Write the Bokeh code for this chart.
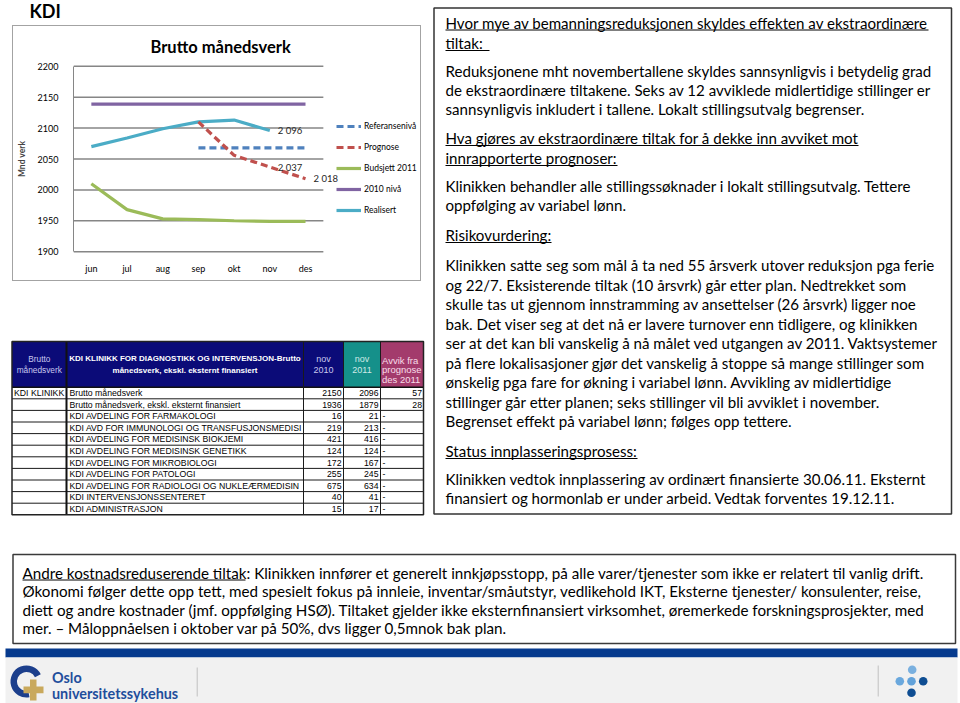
from bokeh.plotting import figure
from bokeh.models import (ColumnDataSource, Range1d, FixedTicker, Legend,
                          LegendItem, LabelSet, Spacer)
from bokeh.layouts import row, column
from bokeh.embed import file_html
from bokeh.resources import INLINE
from bokeh.core.properties import value

FONT = "Lato"
TFONT = "Liberation Sans"

# ---------------- chart data ----------------
months = ["jun", "jul", "aug", "sep", "okt", "nov", "des"]
y_ticks = [1900, 1950, 2000, 2050, 2100, 2150, 2200]
realisert_months = ["jun", "jul", "aug", "sep", "okt", "nov"]
realisert = [2070, 2084, 2099, 2110, 2113, 2096]
prognose_months = ["sep", "okt", "nov", "des"]
prognose = [2110, 2056, 2037, 2018]
referanse_months = ["sep", "okt", "nov", "des"]
referanse = [2068, 2068, 2068, 2068]
budsjett_2011 = [2010, 1968, 1953, 1952, 1950, 1949, 1949]
nivaa_2010 = [2139, 2139, 2139, 2139, 2139, 2139, 2139]

# ---------------- table data ----------------
klinikk = ["KDI KLINIKK", "", "", "", "", "", "", "", "", "", ""]
enheter = ["Brutto månedsverk",
           "Brutto månedsverk, ekskl. eksternt finansiert",
           "KDI AVDELING FOR FARMAKOLOGI",
           "KDI AVD FOR IMMUNOLOGI OG TRANSFUSJONSMEDISI",
           "KDI AVDELING FOR MEDISINSK BIOKJEMI",
           "KDI AVDELING FOR MEDISINSK GENETIKK",
           "KDI AVDELING FOR MIKROBIOLOGI",
           "KDI AVDELING FOR PATOLOGI",
           "KDI AVDELING FOR RADIOLOGI OG NUKLEÆRMEDISIN",
           "KDI INTERVENSJONSSENTERET",
           "KDI ADMINISTRASJON"]
nov_2010 = [2150, 1936, 16, 219, 421, 124, 172, 255, 675, 40, 15]
nov_2011 = [2096, 1879, 21, 213, 416, 124, 167, 245, 634, 41, 17]
avvik = ["57", "28", "-", "-", "-", "-", "-", "-", "-", "-", "-"]

# ---------------- text content ----------------
notes_lines = [
    "Hvor mye av bemanningsreduksjonen skyldes effekten av ekstraordinære",
    "tiltak:",
    "Reduksjonene mht novembertallene skyldes sannsynligvis i betydelig grad",
    "de ekstraordinære tiltakene. Seks av 12 avviklede midlertidige stillinger er",
    "sannsynligvis inkludert i tallene. Lokalt stillingsutvalg begrenser.",
    "Hva gjøres av ekstraordinære tiltak for å dekke inn avviket mot",
    "innrapporterte prognoser:",
    "Klinikken behandler alle stillingssøknader i lokalt stillingsutvalg. Tettere",
    "oppfølging av variabel lønn.",
    "Risikovurdering:",
    "Klinikken satte seg som mål å ta ned 55 årsverk utover reduksjon pga ferie",
    "og 22/7.  Eksisterende tiltak (10 årsvrk) går etter plan. Nedtrekket som",
    "skulle tas ut gjennom innstramming av ansettelser (26 årsvrk) ligger noe",
    "bak. Det viser seg at det nå er lavere turnover enn tidligere, og klinikken",
    "ser at det kan bli vanskelig å nå målet ved utgangen av 2011. Vaktsystemer",
    "på flere lokalisasjoner gjør det vanskelig å stoppe så mange stillinger som",
    "ønskelig pga fare for økning i variabel lønn. Avvikling av midlertidige",
    "stillinger går etter planen; seks stillinger vil bli avviklet i november.",
    "Begrenset effekt på variabel lønn; følges opp tettere.",
    "Status innplasseringsprosess:",
    "Klinikken vedtok innplassering av ordinært finansierte 30.06.11.  Eksternt",
    "finansiert og hormonlab er under arbeid. Vedtak forventes 19.12.11.",
]
notes_base = [27.5, 48, 76, 95, 114, 143, 163, 191, 210, 240, 270, 289.5, 309, 328.5,
              348, 367.5, 387, 406.5, 426, 456, 484, 503]
notes_ul = {0: 928, 1: 489, 5: 858, 6: 617, 9: 551, 19: 637}

bottom_lines = [
    "Andre kostnadsreduserende tiltak: Klinikken innfører et generelt innkjøpsstopp, på alle varer/tjenester som ikke er relatert til vanlig drift.",
    "Økonomi følger dette opp tett, med spesielt fokus på innleie, inventar/småutstyr, vedlikehold IKT, Eksterne tjenester/ konsulenter, reise,",
    "diett og andre kostnader (jmf. oppfølging HSØ). Tiltaket gjelder ikke eksternfinansiert virksomhet, øremerkede forskningsprosjekter, med",
    "mer. – Måloppnåelsen i oktober var på 50%, dvs ligger 0,5mnok bak plan.",
]
bottom_base = [577.5, 596, 614.5, 633]


def panel(x0, y0, w, h):
    p = figure(width=w, height=h, x_range=Range1d(x0, x0 + w), y_range=Range1d(y0 + h, y0),
               x_axis_location=None, y_axis_location=None, output_backend="svg",
               toolbar_location=None, min_border=0)
    p.xgrid.visible = False
    p.ygrid.visible = False
    p.outline_line_color = None
    p.background_fill_color = "white"
    p.border_fill_color = "white"
    return p


def txt(p, xs, ys, texts, size, font=FONT, color="#000000", align="left",
        baseline="alphabetic", style="normal"):
    # Bokeh draws alphabetic text ~0.36em lower than given; compensate
    px = float(size.replace("px", ""))
    if baseline == "alphabetic":
        ys = [y - 0.36 * px for y in ys]
    p.text(x=xs, y=ys, text=texts, text_font=value(font), text_font_size=size,
           text_color=color, text_align=align, text_baseline=baseline,
           text_font_style=style)


# ---------------- KDI header ----------------
kdi = panel(0, 0, 430, 25)
txt(kdi, [29], [16.5], ["KDI"], "18px", style="bold")

# ---------------- chart ----------------
CH_W, CH_H = 409, 256
B_LEFT, B_TOP, B_BOTTOM = 57, 37, 29
PLOT_PX = 252          # width of the gridded area
LEG_PX = CH_W - B_LEFT - PLOT_PX
x_idx = {m: i for i, m in enumerate(months)}
x_start = -0.5
x_end = len(months) - 0.5 + LEG_PX * len(months) / PLOT_PX

chart = figure(width=CH_W, height=CH_H, x_range=Range1d(x_start, x_end),
               y_range=Range1d(1897, 2203), output_backend="svg", toolbar_location=None,
               min_border_left=B_LEFT, min_border_right=0, min_border_top=B_TOP,
               min_border_bottom=B_BOTTOM, title="Brutto månedsverk")
chart.styles = {"border": "1px solid #a3a3a3"}
chart.title.align = "left"
chart.title.offset = 77
chart.title.standoff = 16
chart.title.text_font = FONT
chart.title.text_font_size = "16.5px"
chart.title.text_font_style = "bold"
chart.title.text_color = "#000000"
chart.outline_line_color = None
chart.xgrid.visible = False
chart.ygrid.visible = False

chart.yaxis.ticker = FixedTicker(ticks=y_ticks)
chart.yaxis.bounds = (y_ticks[0], y_ticks[-1])
chart.yaxis.major_tick_line_color = None
chart.yaxis.minor_tick_line_color = None
chart.yaxis.axis_line_color = "#868686"
chart.yaxis.major_label_standoff = 9
chart.yaxis.major_label_text_font = FONT
chart.yaxis.major_label_text_font_size = "9px"
chart.yaxis.major_label_text_color = "#000000"
chart.yaxis.axis_label = "Mnd verk"
chart.yaxis.axis_label_text_font = FONT
chart.yaxis.axis_label_text_font_size = "8.5px"
chart.yaxis.axis_label_text_font_style = "bold"
chart.yaxis.axis_label_standoff = 8

chart.xaxis.ticker = FixedTicker(ticks=list(range(len(months))))
chart.xaxis.major_label_overrides = {i: m for i, m in enumerate(months)}
chart.xaxis.axis_line_color = None
chart.xaxis.major_tick_line_color = None
chart.xaxis.minor_tick_line_color = None
chart.xaxis.major_label_standoff = 3
chart.xaxis.major_label_text_font = FONT
chart.xaxis.major_label_text_font_size = "9px"
chart.xaxis.major_label_text_color = "#000000"

# horizontal gridlines over the month area only
chart.segment(x0=[x_start] * len(y_ticks), x1=[len(months) - 0.5] * len(y_ticks),
              y0=y_ticks, y1=y_ticks, line_color="#868686", line_width=1.5)

LW = 3.2
r_niv = chart.line(x=[x_idx[m] for m in months], y=nivaa_2010, line_color="#8064a2",
                   line_width=LW)
r_real = chart.line(x=[x_idx[m] for m in realisert_months], y=realisert,
                    line_color="#4bacc6", line_width=LW)
r_bud = chart.line(x=[x_idx[m] for m in months], y=budsjett_2011, line_color="#9bbb59",
                   line_width=LW)
r_ref = chart.line(x=[x_idx[m] for m in referanse_months], y=referanse,
                   line_color="#4f81bd", line_width=LW, line_dash="7 4")
r_prog = chart.line(x=[x_idx[m] for m in prognose_months], y=prognose,
                    line_color="#c0504d", line_width=LW, line_dash="7 4")

lab_y = [realisert[-1], prognose[2], prognose[3]]
lab = ColumnDataSource(dict(x=[x_idx[realisert_months[-1]], x_idx[prognose_months[2]],
                               x_idx[prognose_months[3]]],
                            y=lab_y,
                            text=[f"{v:,}".replace(",", " ") for v in lab_y]))
chart.add_layout(LabelSet(x="x", y="y", text="text", source=lab, x_offset=8,
                          text_baseline="middle", text_font=value(FONT),
                          text_font_size=value("9.5px"), text_color="#262626"))

legend = Legend(items=[LegendItem(label="Referansenivå", renderers=[r_ref]),
                       LegendItem(label="Prognose", renderers=[r_prog]),
                       LegendItem(label="Budsjett 2011", renderers=[r_bud]),
                       LegendItem(label="2010 nivå", renderers=[r_niv]),
                       LegendItem(label="Realisert", renderers=[r_real])],
                location=(PLOT_PX + 11, 36), glyph_width=25, glyph_height=14,
                label_height=14, spacing=7, padding=0, margin=0,
                border_line_color=None, background_fill_alpha=0, label_standoff=3,
                label_text_font=FONT, label_text_font_size="8.5px",
                label_text_color="#000000")
chart.add_layout(legend)

# ---------------- table ----------------
tp = panel(0, 283, 430, 237)
cx = [11.5, 66, 303, 343, 380, 423]
h_top, h_bot, t_bot = 341, 386.7, 514.3
rh = (t_bot - h_bot) / len(enheter)
tp.quad(left=[cx[0], cx[3], cx[4]], right=[cx[3], cx[4], cx[5]],
        top=[h_top] * 3, bottom=[h_bot] * 3,
        fill_color=["#0b0b78", "#15908a", "#a33b6c"], line_color=None)
row_lines = [h_bot + k * rh for k in range(1, len(enheter))]
tp.segment(x0=[cx[0]] * len(row_lines), x1=[cx[5]] * len(row_lines),
           y0=row_lines, y1=row_lines, line_color="#1a1a1a", line_width=1)
tp.segment(x0=[cx[0]], x1=[cx[5]], y0=[h_bot], y1=[h_bot], line_color="#111111",
           line_width=1.5)
tp.segment(x0=cx[2:5], x1=cx[2:5], y0=[h_top] * 3, y1=[t_bot] * 3,
           line_color="#1a1a1a", line_width=1)
tp.segment(x0=[cx[1]], x1=[cx[1]], y0=[h_top], y1=[t_bot], line_color="#111111",
           line_width=2)
tp.quad(left=[cx[0]], right=[cx[5]], top=[h_top], bottom=[t_bot], fill_color=None,
        line_color="#222222", line_width=1.5)

hy1, hy2 = 358, 369.5
txt(tp, [38.8, 38.8], [hy1, hy2], ["Brutto", "månedsverk"], "8.3px", font=TFONT,
    color="#c8c8ee", align="center", baseline="middle")
txt(tp, [184.5, 184.5], [hy1, hy2],
    ["KDI KLINIKK FOR DIAGNOSTIKK OG INTERVENSJON-Brutto",
     "månedsverk, ekskl. eksternt finansiert"], "8px", font=TFONT,
    color="#ffffff", align="center", baseline="middle", style="bold")
txt(tp, [323, 323], [hy1, hy2], ["nov", "2010"], "9px", font=TFONT,
    color="#c8c8ee", align="center", baseline="middle")
txt(tp, [361.5, 361.5], [hy1, hy2], ["nov", "2011"], "9px", font=TFONT,
    color="#cfeae6", align="center", baseline="middle")
txt(tp, [381.5, 381.5, 381.5], [359.5, 369, 378.5], ["Avvik fra", "prognose", "des 2011"],
    "9.5px", font=TFONT, color="#f8dde9", align="left", baseline="middle")

row_mid = [h_bot + (k + 0.5) * rh for k in range(len(enheter))]
TS = "8.7px"
txt(tp, [13.5] * len(klinikk), row_mid, klinikk, TS, font=TFONT, baseline="middle")
txt(tp, [69] * len(enheter), row_mid, enheter, TS, font=TFONT, baseline="middle")
txt(tp, [341] * len(nov_2010), row_mid, [str(v) for v in nov_2010], TS, font=TFONT,
    align="right", baseline="middle")
txt(tp, [378] * len(nov_2011), row_mid, [str(v) for v in nov_2011], TS, font=TFONT,
    align="right", baseline="middle")
num_idx = [k for k, a in enumerate(avvik) if a != "-"]
dash_idx = [k for k, a in enumerate(avvik) if a == "-"]
txt(tp, [421.5] * len(num_idx), [row_mid[k] for k in num_idx], [avvik[k] for k in num_idx],
    TS, font=TFONT, align="right", baseline="middle")
txt(tp, [382] * len(dash_idx), [row_mid[k] for k in dash_idx], [avvik[k] for k in dash_idx],
    TS, font=TFONT, baseline="middle")

# ---------------- right text box ----------------
rp = panel(430, 0, 530, 520)
rp.quad(left=[433.5], right=[951], top=[7.5], bottom=[513.5], fill_color=None,
        line_color="#333333", line_width=1.5)
txt(rp, [445] * len(notes_lines), notes_base, notes_lines, "15.1px")
ul_idx = sorted(notes_ul)
rp.segment(x0=[445] * len(ul_idx), x1=[notes_ul[k] for k in ul_idx],
           y0=[notes_base[k] + 2 for k in ul_idx], y1=[notes_base[k] + 2 for k in ul_idx],
           line_color="#000000", line_width=1)

# ---------------- bottom box & footer ----------------
bp = panel(0, 520, 960, 183)
bp.quad(left=[12.5], right=[955], top=[554], bottom=[643], fill_color=None,
        line_color="#3a3a3a", line_width=1.5)
txt(bp, [22] * len(bottom_lines), bottom_base, bottom_lines, "15.2px")
bp.segment(x0=[22], x1=[245], y0=[bottom_base[0] + 2], y1=[bottom_base[0] + 2],
           line_color="#000000", line_width=1)
bp.quad(left=[5], right=[957], top=[648], bottom=[657], fill_color="#063a8e",
        line_color=None)
bp.quad(left=[5], right=[957], top=[657], bottom=[703], fill_color="#f1f1f1",
        line_color=None)
bp.segment(x0=[196.7, 877.7], x1=[196.7, 877.7], y0=[667, 665], y1=[696, 696],
           line_color="#c0c0c0", line_width=1)
bp.annular_wedge(x=[26], y=[681], inner_radius=9.5, outer_radius=16,
                 start_angle=0.47, end_angle=4.9, fill_color="#1c3f8c", line_color=None)
bp.quad(left=[23, 29.5], right=[43, 36], top=[686, 679], bottom=[692.7, 700],
        fill_color="#c9a95c", line_color=None)
txt(bp, [51.5, 51.5], [682, 698], ["Oslo", "universitetssykehus"], "14.4px",
    color="#1f4e9c", style="bold")
bp.scatter(x=[911.7, 899.3, 911, 922.7, 911], y=[669.3, 680.7, 680.7, 680.7, 692.3],
           size=8.6, marker="circle", line_color=None,
           fill_color=["#7ab0df", "#6aa8dd", "#62a2da", "#0e4d92", "#0e4d92"])

left_col = column(kdi, row(Spacer(width=12, height=258), chart), tp)
layout = column(row(left_col, rp), bp)

open("out.html", "w").write(file_html(layout, INLINE))
